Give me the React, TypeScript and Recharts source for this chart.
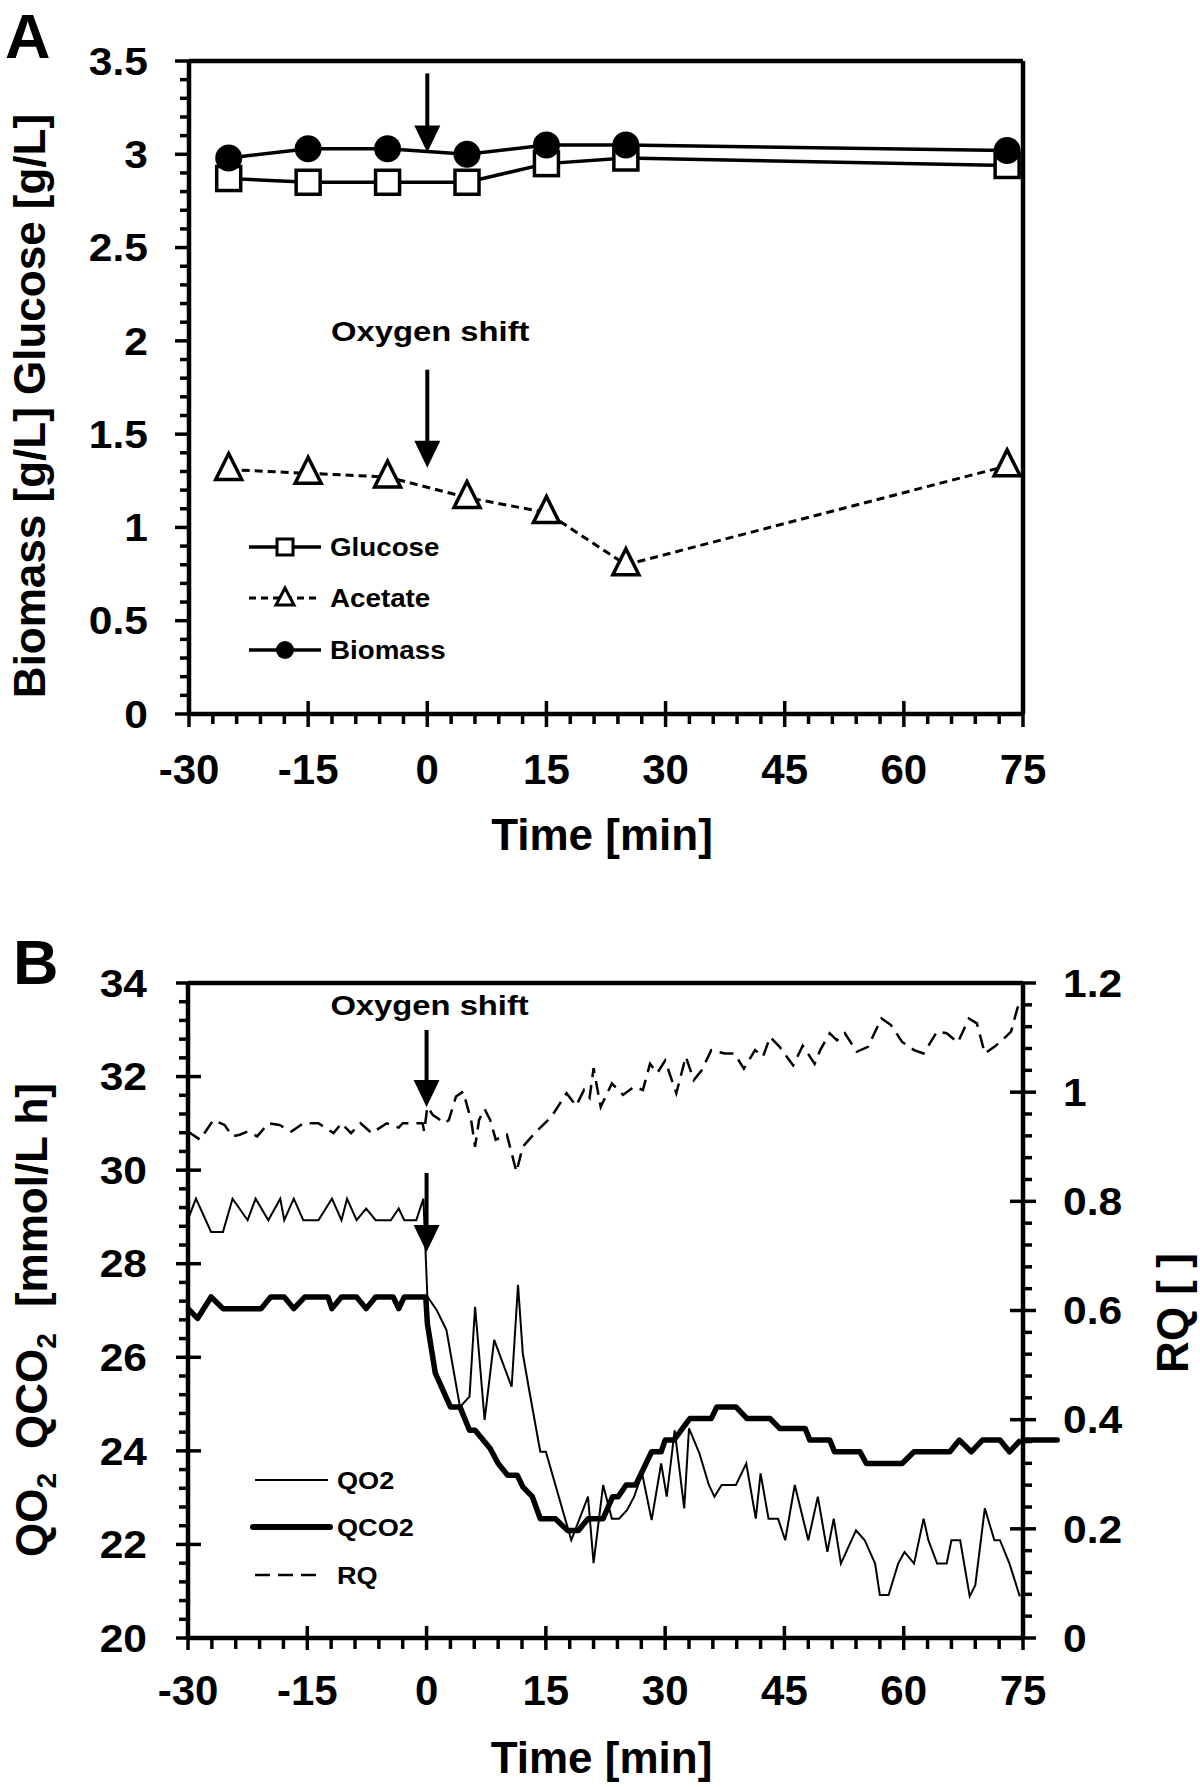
import React from "react";
import { LineChart, Line, XAxis, YAxis, ReferenceLine, ReferenceDot, Legend } from "recharts";

const FONT = "'Liberation Sans', Arial, Helvetica, sans-serif";

// ---- panel A: concentrations ----
const timeA = [-25, -15, -5, 5, 15, 25, 73];
const glucose = [2.87, 2.85, 2.85, 2.85, 2.95, 2.98, 2.94];
const acetate = [1.31, 1.29, 1.27, 1.16, 1.08, 0.8, 1.33];
const biomass = [2.98, 3.03, 3.03, 3.0, 3.05, 3.05, 3.02];

// ---- panel B: rates ----
const qo2Time = [
  -30, -29, -27.1, -25.6, -24.4, -22.5, -21.5, -19.9, -18.4, -17.9, -16.7, -15.5, -13.6, -11.9, -10.7, -10,
  -8.8, -7.6, -6.4, -4.5, -3.5, -2.8, -1.3, -0.4, 0.1, 1.3, 2.5, 4.2, 5.4, 6.1, 7.3, 8.5, 9.6, 10.7, 11.5,
  12.1, 12.9, 14.3, 15, 18.2, 20.3, 21, 22.2, 23.3, 24.2, 25.2, 26.1, 27.1, 28.3, 29.5, 30.2, 31.2, 32.4, 33,
  34.3, 35.5, 36.2, 37.1, 38.9, 40.2, 41.4, 42, 43, 44.2, 45.1, 46.3, 48, 49.2, 50.4, 51.2, 52.1, 54, 55.1,
  56.4, 57, 58.1, 59.3, 60.1, 61.3, 62.5, 63.1, 64.2, 65.4, 66, 67.1, 68.3, 69, 70.2, 71.4, 72.1, 73.3, 74.6,
];
const qo2 = [
  28.95, 29.39, 28.68, 28.68, 29.39, 28.93, 29.39, 28.93, 29.39, 28.93, 29.39, 28.93, 28.93, 29.39, 28.93, 29.39,
  28.93, 29.18, 28.93, 28.93, 29.18, 28.93, 28.93, 29.39, 27.3, 27.0, 26.58, 24.94, 25.16, 27.08, 24.66, 26.37,
  25.87, 25.37, 27.55, 26.08, 25.3, 23.98, 23.98, 22.09, 23.02, 21.6, 23.27, 22.55, 22.55, 22.73, 23.02, 23.52,
  22.52, 23.73, 23.02, 24.44, 22.77, 24.48, 23.95, 23.27, 23.02, 23.27, 23.27, 23.73, 22.55, 23.52, 22.55, 22.55,
  22.09, 23.27, 22.09, 23.02, 21.84, 22.55, 21.59, 22.3, 22.09, 21.59, 20.92, 20.92, 21.59, 21.84, 21.59, 22.55,
  22.09, 21.59, 21.59, 22.09, 22.09, 20.89, 21.13, 22.77, 22.09, 22.09, 21.59, 20.89,
];
const qco2Time = [
  -30, -28.8, -27.1, -25.6, -20.8, -19.6, -17.9, -16.7, -15.3, -12.4, -11.9, -10.7, -8.8, -7.6, -6.4, -4.2,
  -3.5, -2.8, -0.1, 0.1, 1.1, 3, 4.2, 5.4, 6.1, 8, 9, 10.2, 11.4, 12.1, 13.3, 14.3, 16.2, 17.7, 19.1, 20.3,
  22.2, 23.4, 24.1, 25.1, 26.3, 28.3, 29.5, 30, 31.1, 33.1, 35.8, 36.5, 38.9, 40.3, 43.2, 44.4, 47.6, 48.2,
  50.7, 51.3, 54.5, 55.3, 59.8, 61.3, 65.8, 67, 68.5, 69.9, 72.1, 73.3, 74.7,
];
const qco2 = [
  27.04, 26.83, 27.29, 27.04, 27.04, 27.29, 27.29, 27.04, 27.29, 27.29, 27.04, 27.29, 27.29, 27.04, 27.29, 27.29,
  27.04, 27.29, 27.29, 26.72, 25.66, 24.94, 24.94, 24.44, 24.44, 24.05, 23.73, 23.48, 23.48, 23.23, 23.02, 22.55,
  22.55, 22.3, 22.3, 22.55, 22.55, 23.02, 23.02, 23.27, 23.27, 23.98, 23.98, 24.23, 24.23, 24.69, 24.69, 24.94,
  24.94, 24.69, 24.69, 24.48, 24.48, 24.23, 24.23, 23.98, 23.98, 23.73, 23.73, 23.98, 23.98, 24.23, 23.98, 24.23,
  24.23, 23.98, 24.23,
];
const qco2TailTime = 79.3; // the QCO2 trace runs a little past the right axis
const rqTime = [
  -30, -28.5, -26.8, -25.4, -24.4, -23.5, -22.5, -21.3, -19.9, -18.5, -17, -15.5, -13.6, -11.7, -10.7, -9.5,
  -8.3, -6.9, -5, -3.5, -3, -1.5, -0.5, -0.3, 0.1, 0.8, 2.3, 2.8, 3.7, 4.6, 5.6, 6.1, 6.6, 7.3, 8, 8.7, 10.1,
  11.3, 12.1, 13.8, 15.7, 17.6, 18.8, 19.8, 20.5, 21, 21.9, 23.3, 24.7, 26.1, 27.2, 28.1, 29, 30, 31.4, 32.6,
  33.6, 34.6, 35.8, 37.5, 38.7, 39.9, 41.3, 42.3, 43.2, 44.4, 46.1, 47.3, 48.8, 49.5, 50.7, 51.6, 52.6, 54.1,
  55.5, 57.2, 58.4, 59.8, 61.3, 62.5, 64.2, 65.4, 66.8, 68.2, 69.2, 70.2, 71.4, 72.8, 73.5, 74.3, 74.7,
];
const rq = [
  0.928, 0.913, 0.949, 0.94, 0.919, 0.922, 0.928, 0.919, 0.943, 0.94, 0.928, 0.943, 0.943, 0.925, 0.943, 0.925,
  0.943, 0.925, 0.943, 0.935, 0.943, 0.943, 0.943, 0.928, 0.973, 0.958, 0.943, 0.949, 0.992, 1.001, 0.949, 0.9,
  0.949, 0.969, 0.949, 0.913, 0.922, 0.854, 0.9, 0.928, 0.955, 0.998, 0.975, 1.004, 0.99, 1.044, 0.973, 1.016,
  0.995, 1.01, 1.004, 1.052, 1.035, 1.058, 0.998, 1.065, 1.022, 1.04, 1.077, 1.071, 1.071, 1.043, 1.077, 1.065,
  1.101, 1.083, 1.049, 1.085, 1.052, 1.077, 1.108, 1.095, 1.108, 1.074, 1.083, 1.135, 1.123, 1.092, 1.077, 1.071,
  1.111, 1.108, 1.091, 1.135, 1.126, 1.071, 1.083, 1.101, 1.111, 1.154, 1.166,
];

// where the "oxygen shift" arrows point
const shiftTime = 0;
const arrowA = [3.01, 1.32];
const arrowB = [31.35, 28.25];

// axis ticks
const timeTicks = [-30, -15, 0, 15, 30, 45, 60, 75];
const concTicks = [0, 0.5, 1, 1.5, 2, 2.5, 3, 3.5];
const rateTicks = [20, 22, 24, 26, 28, 30, 32, 34];
const rqTicks = [0, 0.2, 0.4, 0.6, 0.8, 1, 1.2];

function withMinor(major: number[], parts: number) {
  const out: number[] = [];
  for (let i = 0; i < major.length - 1; i++) {
    const step = (major[i + 1] - major[i]) / parts;
    for (let k = 0; k < parts; k++) out.push(+(major[i] + k * step).toFixed(4));
  }
  out.push(major[major.length - 1]);
  return out;
}

const dataA = timeA.map((t, i) => ({ t, glucose: glucose[i], acetate: acetate[i], biomass: biomass[i] }));
const qo2Rows = qo2Time.map((t, i) => ({ t, v: qo2[i] }));
const qco2Rows = qco2Time.map((t, i) => ({ t, v: qco2[i] }));
const rqRows = rqTime.map((t, i) => ({ t, v: rq[i] }));

// the original lettering is a slightly wide Helvetica: stretch Arial a bit
const bold = (size: number) => ({ fontFamily: FONT, fontWeight: 700, fontSize: size, fill: "#000" });

function SText(props: { x: number; y: number; sx?: number; anchor?: string; size: number; children: React.ReactNode }) {
  const { x, y, sx = 1, anchor = "start", size, children } = props;
  return (
    <text transform={`translate(${x} ${y}) scale(${sx} 1)`} textAnchor={anchor as any} style={bold(size)}>
      {children}
    </text>
  );
}

type TickCfg = {
  side: "bottom" | "left" | "right";
  majors: number[];
  font: number;
  sx: number;
  majorIn: number;
  majorOut: number;
  minorOut: number;
  gap: number;
};

const makeTick = (cfg: TickCfg) => (p: any) => {
  const { x, y, payload, index } = p;
  const v = payload.value;
  const major = cfg.majors.some((m) => Math.abs(m - v) < 1e-6);
  const out = major ? cfg.majorOut : cfg.minorOut;
  const inn = major ? cfg.majorIn : 0;
  let tick;
  let label = null;
  if (cfg.side === "bottom") {
    tick = <line x1={x} x2={x} y1={y - inn} y2={y + out} />;
    if (major)
      label = (
        <SText x={x} y={y + cfg.gap} sx={cfg.sx} anchor="middle" size={cfg.font}>
          {String(v)}
        </SText>
      );
  } else if (cfg.side === "left") {
    tick = <line x1={x - out} x2={x + inn} y1={y} y2={y} />;
    if (major)
      label = (
        <SText x={x - cfg.gap} y={y + cfg.font * 0.36} sx={cfg.sx} anchor="end" size={cfg.font}>
          {String(v)}
        </SText>
      );
  } else {
    tick = <line x1={x - inn} x2={x + out} y1={y} y2={y} />;
    if (major)
      label = (
        <SText x={x + cfg.gap} y={y + cfg.font * 0.36} sx={cfg.sx} anchor="start" size={cfg.font}>
          {String(v)}
        </SText>
      );
  }
  return (
    <g key={`tick-${cfg.side}-${index}`}>
      <g stroke="#000" strokeWidth={3.5}>{tick}</g>
      {label}
    </g>
  );
};

const axisLine = { stroke: "#000", strokeWidth: 4.5 };

const Arrow = (len: number, caption?: { text: string; above: number }) => (p: any) => {
  const { cx, cy } = p;
  return (
    <g>
      <line x1={cx} x2={cx} y1={cy - len} y2={cy - 20} stroke="#000" strokeWidth={4} />
      <polygon points={`${cx - 13},${cy - 27} ${cx + 13},${cy - 27} ${cx},${cy}`} fill="#000" />
      {caption && (
        <SText x={cx + 3} y={cy - len - caption.above} sx={1.17} anchor="middle" size={28}>
          {caption.text}
        </SText>
      )}
    </g>
  );
};

const square = (p: any) => (
  <rect key={`sq-${p.index}`} x={p.cx - 12} y={p.cy - 12} width={24} height={24} fill="#fff" stroke="#000" strokeWidth={3.5} />
);
const triangle = (p: any) => (
  <polygon
    key={`tr-${p.index}`}
    points={`${p.cx},${p.cy - 16} ${p.cx - 13},${p.cy + 10} ${p.cx + 13},${p.cy + 10}`}
    fill="#fff"
    stroke="#000"
    strokeWidth={3.5}
  />
);
const circle = (p: any) => <circle key={`ci-${p.index}`} cx={p.cx} cy={p.cy} r={13.5} fill="#000" />;

const LegendA = () => (
  <svg width={220} height={150}>
    <g stroke="#000" strokeWidth={3.5}>
      <line x1={9} x2={81} y1={25} y2={25} />
      <rect x={37} y={17} width={16} height={16} fill="#fff" strokeWidth={3} />
      <line x1={9} x2={81} y1={76} y2={76} strokeDasharray="7 5" strokeWidth={3} />
      <polygon points="45,66 36,83 54,83" fill="#fff" strokeWidth={3} />
      <line x1={9} x2={81} y1={128} y2={128} />
      <circle cx={45} cy={128} r={9} fill="#000" stroke="none" />
    </g>
    <SText x={90} y={34} sx={1.11} size={25}>Glucose</SText>
    <SText x={90} y={85} sx={1.11} size={25}>Acetate</SText>
    <SText x={90} y={137} sx={1.11} size={25}>Biomass</SText>
  </svg>
);

const LegendB = () => (
  <svg width={200} height={150}>
    <line x1={15} x2={88} y1={25} y2={25} stroke="#000" strokeWidth={2} />
    <line x1={13} x2={90} y1={72} y2={72} stroke="#000" strokeWidth={6} strokeLinecap="round" />
    <line x1={15} x2={80} y1={120} y2={120} stroke="#000" strokeWidth={2.5} strokeDasharray="15 8" />
    <SText x={97} y={34} sx={1.13} size={24}>QO2</SText>
    <SText x={97} y={81} sx={1.13} size={24}>QCO2</SText>
    <SText x={97} y={129} sx={1.13} size={24}>RQ</SText>
  </svg>
);

const titleStyle = bold(44);
const letterStyle = bold(63);

export default function App() {
  const xTicks = withMinor(timeTicks, 5);
  return (
    <div style={{ position: "absolute", left: 0, top: 0, width: 1200, height: 1787, background: "#fff" }}>
      {/* A: glucose / acetate / biomass */}
      <div style={{ position: "absolute", left: 0, top: 0 }}>
        <LineChart width={1200} height={890} data={dataA} margin={{ top: 61, right: 177, bottom: 175, left: 188 }}>
          <XAxis
            type="number"
            dataKey="t"
            domain={[-30, 75]}
            allowDataOverflow
            ticks={xTicks}
            interval={0}
            height={1}
            tickSize={0}
            tickMargin={0}
            tickLine={false}
            axisLine={axisLine}
            tick={makeTick({ side: "bottom", majors: timeTicks, font: 42, sx: 1, majorIn: 13, majorOut: 13, minorOut: 10, gap: 70 })}
            label={{
              content: (p: any) => (
                <text x={p.viewBox.x + p.viewBox.width / 2 - 4} y={p.viewBox.y + 136} textAnchor="middle" style={titleStyle}>
                  Time [min]
                </text>
              ),
            }}
          />
          <YAxis
            type="number"
            domain={[0, 3.5]}
            allowDataOverflow
            ticks={withMinor(concTicks, 5)}
            interval={0}
            width={1}
            tickSize={0}
            tickMargin={0}
            tickLine={false}
            axisLine={axisLine}
            tick={makeTick({ side: "left", majors: concTicks, font: 38, sx: 1.12, majorIn: 0, majorOut: 14, minorOut: 9, gap: 41 })}
            label={{
              content: () => (
                <g>
                  <text x={45} y={406} transform="rotate(-90 45 406)" textAnchor="middle" style={titleStyle}>
                    Biomass [g/L] Glucose [g/L]
                  </text>
                  <text x={5} y={58} style={letterStyle}>A</text>
                </g>
              ),
            }}
          />
          <ReferenceLine y={3.5} stroke="#000" strokeWidth={4.5} />
          <ReferenceLine x={75} stroke="#000" strokeWidth={4.5} />
          <Line dataKey="glucose" type="linear" stroke="#000" strokeWidth={3.5} dot={square} activeDot={false} isAnimationActive={false} />
          <Line dataKey="acetate" type="linear" stroke="#000" strokeWidth={3} strokeDasharray="8 5" dot={triangle} activeDot={false} isAnimationActive={false} />
          <Line dataKey="biomass" type="linear" stroke="#000" strokeWidth={3.5} dot={circle} activeDot={false} isAnimationActive={false} />
          <ReferenceDot x={shiftTime} y={arrowA[0]} shape={Arrow(79)} />
          <ReferenceDot x={shiftTime} y={arrowA[1]} shape={Arrow(98, { text: "Oxygen shift", above: 29 })} />
          <Legend
            layout="vertical"
            align="center"
            verticalAlign="middle"
            wrapperStyle={{ left: 240, top: 522, width: 220, height: 150 }}
            content={() => <LegendA />}
          />
        </LineChart>
      </div>

      {/* B: QO2 / QCO2 / RQ */}
      <div style={{ position: "absolute", left: 0, top: 900 }}>
        <LineChart width={1200} height={887} margin={{ top: 83, right: 176, bottom: 148, left: 187 }}>
          <XAxis
            type="number"
            dataKey="t"
            domain={[-30, 75]}
            allowDataOverflow
            ticks={xTicks}
            interval={0}
            height={1}
            tickSize={0}
            tickMargin={0}
            tickLine={false}
            axisLine={axisLine}
            tick={makeTick({ side: "bottom", majors: timeTicks, font: 42, sx: 1, majorIn: 12, majorOut: 12, minorOut: 11, gap: 67 })}
            label={{
              content: (p: any) => (
                <text x={p.viewBox.x + p.viewBox.width / 2 - 4} y={p.viewBox.y + 135} textAnchor="middle" style={titleStyle}>
                  Time [min]
                </text>
              ),
            }}
          />
          <YAxis
            yAxisId="left"
            type="number"
            domain={[20, 34]}
            allowDataOverflow
            ticks={withMinor(rateTicks, 5)}
            interval={0}
            width={1}
            tickSize={0}
            tickMargin={0}
            tickLine={false}
            axisLine={axisLine}
            tick={makeTick({ side: "left", majors: rateTicks, font: 38, sx: 1.12, majorIn: 13, majorOut: 12, minorOut: 9, gap: 41 })}
            label={{
              content: () => (
                <g>
                  <text x={47} y={420} transform="rotate(-90 47 420)" textAnchor="middle" style={titleStyle}>
                    <tspan>QO</tspan>
                    <tspan dy={9} fontSize={28}>2</tspan>
                    <tspan dy={-9} dx={24}>QCO</tspan>
                    <tspan dy={9} fontSize={28}>2</tspan>
                    <tspan dy={-9} dx={26}>[mmol/L h]</tspan>
                  </text>
                  <text x={13} y={84} style={letterStyle}>B</text>
                </g>
              ),
            }}
          />
          <YAxis
            yAxisId="right"
            orientation="right"
            type="number"
            domain={[0, 1.2]}
            allowDataOverflow
            ticks={withMinor(rqTicks, 5)}
            interval={0}
            width={1}
            tickSize={0}
            tickMargin={0}
            tickLine={false}
            axisLine={axisLine}
            tick={makeTick({ side: "right", majors: rqTicks, font: 38, sx: 1.12, majorIn: 13, majorOut: 13, minorOut: 9, gap: 40 })}
            label={{
              content: () => (
                <text x={1188} y={413} transform="rotate(-90 1188 413)" textAnchor="middle" style={titleStyle}>
                  RQ [ ]
                </text>
              ),
            }}
          />
          <ReferenceLine yAxisId="left" y={34} stroke="#000" strokeWidth={4.5} />
          <Line data={rqRows} yAxisId="right" dataKey="v" type="linear" stroke="#000" strokeWidth={2.5} strokeDasharray="14 8" dot={false} activeDot={false} isAnimationActive={false} />
          <Line data={qo2Rows} yAxisId="left" dataKey="v" type="linear" stroke="#000" strokeWidth={2} dot={false} activeDot={false} isAnimationActive={false} />
          <Line data={qco2Rows} yAxisId="left" dataKey="v" type="linear" stroke="#000" strokeWidth={5.5} strokeLinejoin="round" dot={false} activeDot={false} isAnimationActive={false} />
          <ReferenceLine
            yAxisId="left"
            ifOverflow="visible"
            segment={[
              { x: 75, y: qco2[qco2.length - 1] },
              { x: qco2TailTime, y: qco2[qco2.length - 1] },
            ]}
            stroke="#000"
            strokeWidth={5.5}
            strokeLinecap="round"
          />
          <ReferenceDot yAxisId="left" x={shiftTime} y={arrowB[0]} shape={Arrow(77, { text: "Oxygen shift", above: 15 })} />
          <ReferenceDot yAxisId="left" x={shiftTime} y={arrowB[1]} shape={Arrow(79)} />
          <Legend
            layout="vertical"
            align="center"
            verticalAlign="middle"
            wrapperStyle={{ left: 240, top: 555, width: 200, height: 150 }}
            content={() => <LegendB />}
          />
        </LineChart>
      </div>
    </div>
  );
}
